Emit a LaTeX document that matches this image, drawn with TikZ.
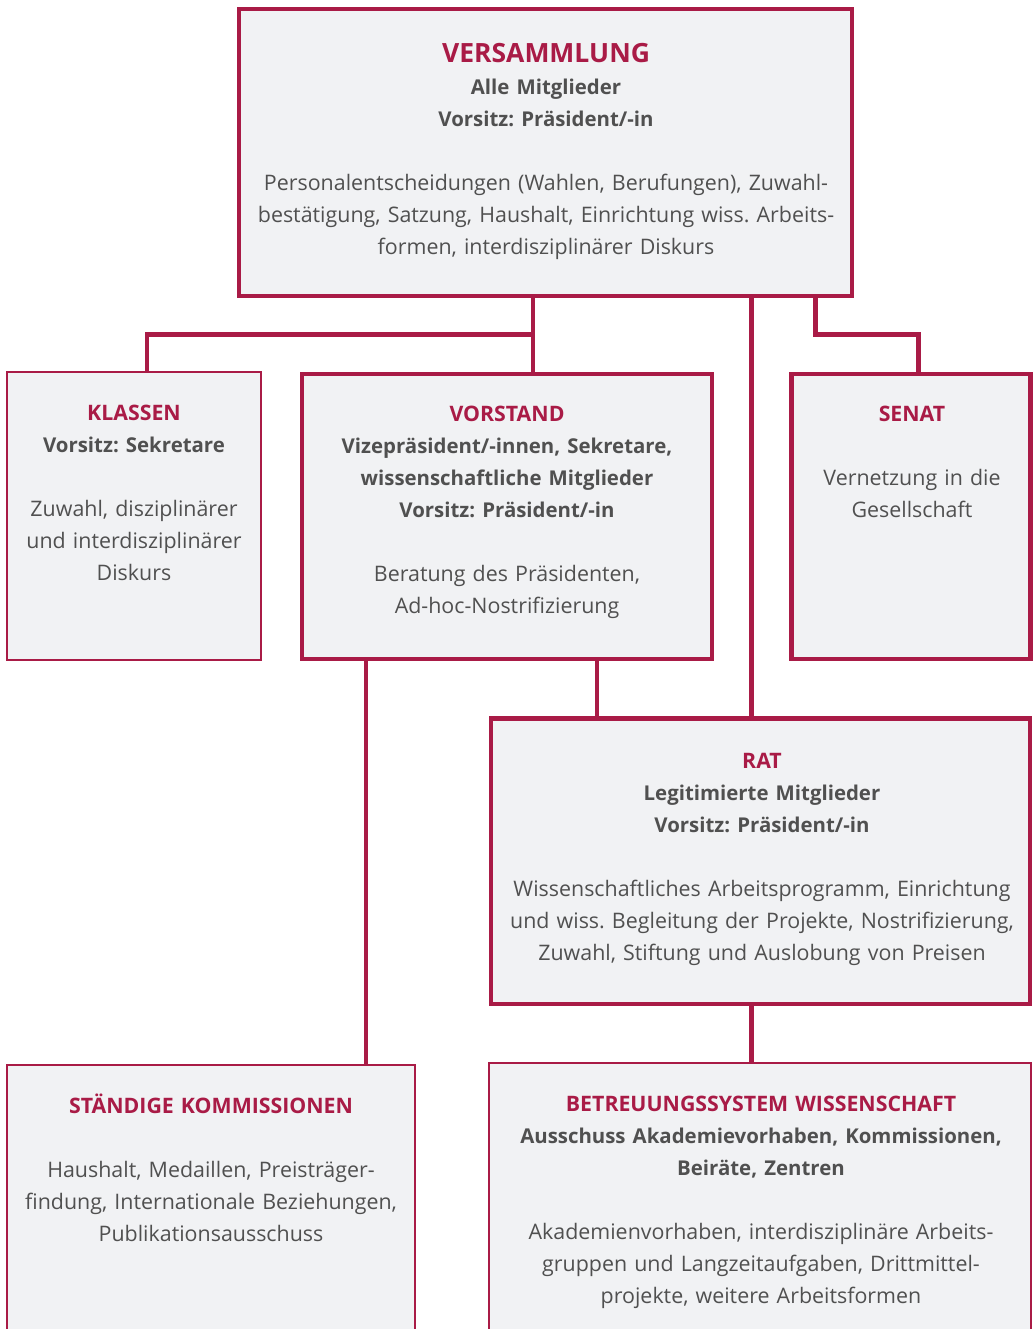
\documentclass[tikz,border=0pt]{standalone}
\usepackage{fontspec}
\setmainfont{Open Sans}
\frenchspacing
\definecolor{akred}{HTML}{A91B46}
\definecolor{akfill}{HTML}{F1F2F4}
\definecolor{aktext}{HTML}{505050}
\newcommand{\hd}[1]{{\fontsize{21.3}{32}\selectfont\bfseries\color{akred}#1}}
\newcommand{\bighd}[1]{{\fontsize{26.5}{32}\selectfont\bfseries\color{akred}#1}}
\newcommand{\sub}[1]{{\fontsize{20.4}{32}\selectfont\bfseries #1}}
\begin{document}
\begin{tikzpicture}[x=1pt,y=-1pt,
  thickbox/.style={draw=akred, fill=akfill, line width=4.7pt, inner sep=0pt, rectangle},
  thinbox/.style={draw=akred, fill=akfill, line width=2.3pt, inner sep=0pt, rectangle},
  txt/.style={anchor=base, inner sep=0pt, text width=#1, align=center, text=aktext,
    font=\fontsize{21.4}{32}\selectfont},
  conn/.style={draw=akred, line width=4.7pt, line join=miter}]
\clip (0,0) rectangle (1035,1329);
\fill[white] (0,0) rectangle (1035,1329);

% connector anchor coordinates
\coordinate (busM) at (533,334.5);
\coordinate (busL) at (147,334.5);
\coordinate (busS) at (815.5,334.5);
\coordinate (busR) at (918.5,334.5);
\coordinate (xRat) at (751.5,0);
\coordinate (xSt) at (366,0);
\coordinate (xVR) at (597,0);

% boxes
\node[thickbox, minimum width=613pt, minimum height=287pt] (vers) at (545.5,152.5) {};
\node[thinbox, minimum width=254pt, minimum height=288pt] (klas) at (134,516) {};
\node[thickbox, minimum width=410pt, minimum height=285pt] (vorst) at (507,516.5) {};
\node[thickbox, minimum width=239pt, minimum height=285pt] (senat) at (911,516.5) {};
\node[thickbox, minimum width=539pt, minimum height=285.5pt] (rat) at (760.5,861.25) {};
\node[thinbox, minimum width=408pt, minimum height=280pt] (stand) at (211,1205) {};
\node[thinbox, minimum width=542pt, minimum height=282pt] (betr) at (760,1204) {};

% connectors
\draw[conn] (vers.south -| busM) -- (busM) -| (klas.north -| busL);
\draw[conn] (busM) -- (vorst.north -| busM);
\draw[conn] (vers.south -| busS) -- (busS) -| (senat.north -| busR);
\draw[conn] (vers.south -| xRat) -- (rat.north -| xRat);
\draw[conn] (vorst.south -| xSt) -- (stand.north -| xSt);
\draw[conn] (vorst.south -| xVR) -- (rat.north -| xVR);
\draw[conn] (rat.south -| xRat) -- (betr.north -| xRat);

% texts
\node[txt=600pt] (tvers) at (546,63) {\bighd{VERSAMMLUNG}\\
\sub{Alle Mitglieder}\\
\sub{Vorsitz: Präsident/-in}\\[32pt]
Personalentscheidungen (Wahlen, Berufungen), Zuwahl-\\
bestätigung, Satzung, Haushalt, Einrichtung wiss. Arbeits-\\
formen, interdisziplinärer Diskurs};

\node[txt=250pt] (tklas) at (134,420) {\hd{KLASSEN}\\
\sub{Vorsitz: Sekretare}\\[32pt]
Zuwahl, disziplinärer\\
und interdisziplinärer\\
Diskurs};

\node[txt=400pt] (tvorst) at (507,421) {\hd{VORSTAND}\\
\sub{Vizepräsident/-innen, Sekretare,}\\
\sub{wissenschaftliche Mitglieder}\\
\sub{Vorsitz: Präsident/-in}\\[32pt]
Beratung des Präsidenten,\\
Ad-hoc-Nostrifizierung};

\node[txt=235pt] (tsenat) at (912,421) {\hd{SENAT}\\[32pt]
Vernetzung in die\\
Gesellschaft};

\node[txt=530pt] (trat) at (762,768) {\hd{RAT}\\
\sub{Legitimierte Mitglieder}\\
\sub{Vorsitz: Präsident/-in}\\[32pt]
Wissenschaftliches Arbeitsprogramm, Einrichtung\\
und wiss. Begleitung der Projekte, Nostrifizierung,\\
Zuwahl, Stiftung und Auslobung von Preisen};

\node[txt=400pt] (tstand) at (211,1113) {\hd{STÄNDIGE KOMMISSIONEN}\\[32pt]
Haushalt, Medaillen, Preisträger-\\
findung, Internationale Beziehungen,\\
Publikationsausschuss};

\node[txt=530pt] (tbetr) at (761,1111) {\hd{BETREUUNGSSYSTEM WISSENSCHAFT}\\
\sub{Ausschuss Akademievorhaben, Kommissionen,}\\
\sub{Beiräte, Zentren}\\[32pt]
Akademienvorhaben, interdisziplinäre Arbeits-\\
gruppen und Langzeitaufgaben, Drittmittel-\\
projekte, weitere Arbeitsformen};
\end{tikzpicture}
\end{document}
